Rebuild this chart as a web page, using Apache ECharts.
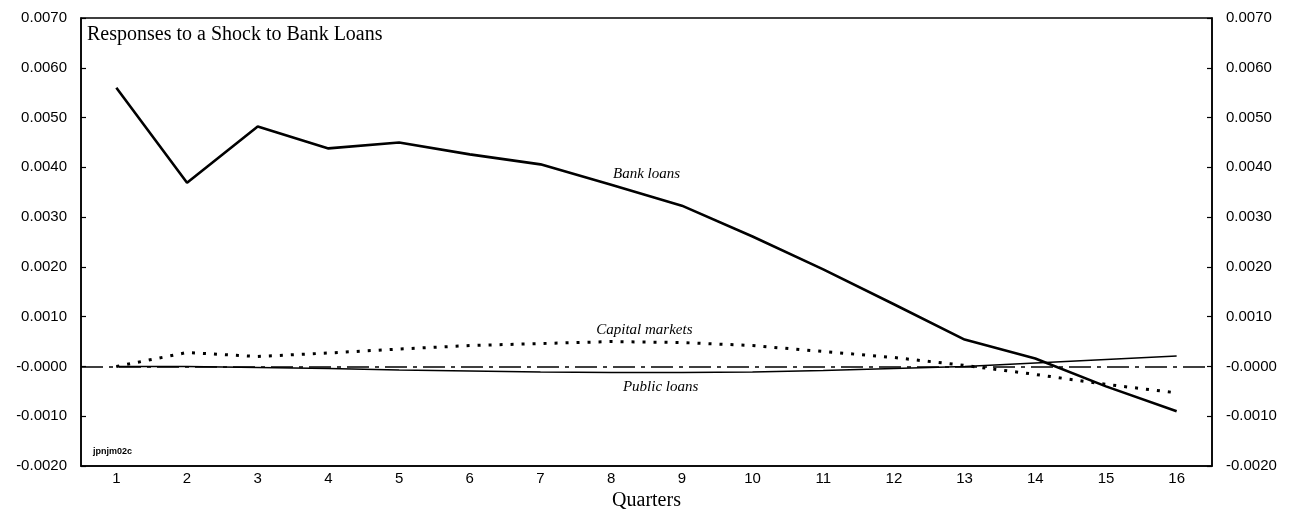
<!DOCTYPE html>
<html>
<head>
<meta charset="utf-8">
<script src="https://cdn.jsdelivr.net/npm/echarts@6/dist/echarts.min.js"></script>
<style>
html,body{margin:0;padding:0;background:#fff;}
#chart{width:1290px;height:510px;}
</style>
</head>
<body>
<div id="chart"></div>
<script>
// ---- data ----
const quarters = ['1','2','3','4','5','6','7','8','9','10','11','12','13','14','15','16'];
const bankLoans = [0.00560,0.00369,0.00482,0.00438,0.00450,0.00426,0.00406,0.00365,0.00323,0.00261,0.00195,0.00125,0.00054,0.00016,-0.00040,-0.00090];
const capitalMarkets = [0.00000,0.00028,0.00020,0.00027,0.00035,0.00042,0.00046,0.00050,0.00048,0.00042,0.00030,0.00018,0.00002,-0.00016,-0.00036,-0.00053];
const publicLoans = [0.00000,0.00000,-0.00002,-0.00004,-0.00007,-0.00009,-0.00011,-0.00012,-0.00012,-0.00011,-0.00008,-0.00004,0.00000,0.00007,0.00014,0.00021];
const yTicks = {min:-0.002, max:0.007, interval:0.001};
const seriesLabels = [
  {text:'Bank loans', idx:7.5, value:0.00386},
  {text:'Capital markets', idx:7.47, value:0.00074},
  {text:'Public loans', idx:7.7, value:-0.00042}
];
const titleText = 'Responses to a Shock to Bank Loans';
const codeText = 'jpnjm02c';

const chart = echarts.init(document.getElementById('chart'), null, {renderer:'canvas'});
const fmt = v => Math.abs(v) < 1e-12 ? '-0.0000' : v.toFixed(4);
const yAxisBase = {
  type:'value', min:yTicks.min, max:yTicks.max, interval:yTicks.interval,
  splitLine:{show:false},
  axisLine:{show:true, onZero:false, lineStyle:{color:'#000', width:1.5}},
  axisTick:{show:true, inside:true, length:5, lineStyle:{color:'#000', width:1.2}},
  axisLabel:{formatter:fmt, color:'#000', fontSize:15, fontFamily:'Liberation Sans', margin:14}
};
chart.setOption({
  animation:false,
  backgroundColor:'#fff',
  grid:{left:81, right:78, top:18, bottom:44, show:true, borderColor:'#000', borderWidth:1.5,
        containLabel:false, outerBoundsMode:'none'},
  xAxis:{
    type:'category', data:quarters, boundaryGap:true,
    axisLine:{onZero:false, lineStyle:{color:'#000', width:1.5}},
    axisTick:{inside:true, length:5, lineStyle:{color:'#000', width:1.2}},
    axisLabel:{color:'#000', fontSize:15, fontFamily:'Liberation Sans', margin:5},
    name:'Quarters', nameLocation:'middle', nameGap:17,
    nameTextStyle:{color:'#000', fontSize:20, fontFamily:'Liberation Serif'}
  },
  yAxis:[
    Object.assign({}, yAxisBase, {position:'left'}),
    Object.assign({}, yAxisBase, {position:'right'})
  ],
  series:[
    {name:'Public loans', type:'line', data:publicLoans, symbol:'none', z:3,
     lineStyle:{color:'#000', width:1.5},
     markLine:{silent:true, symbol:'none', label:{show:false},
       lineStyle:{color:'#000', width:1.6, type:[22,6,4,6]},
       data:[{yAxis:0}]}},
    {name:'Capital markets', type:'line', data:capitalMarkets, symbol:'none',
     lineStyle:{color:'#000', width:3, type:[3,8]}},
    {name:'Bank loans', type:'line', data:bankLoans, symbol:'none',
     lineStyle:{color:'#000', width:2.6}}
  ]
});

function px(idx, value){
  const i0 = Math.floor(idx), i1 = Math.min(i0+1, quarters.length-1);
  const p0 = chart.convertToPixel({gridIndex:0}, [i0, value]);
  const p1 = chart.convertToPixel({gridIndex:0}, [i1, value]);
  const f = idx - i0;
  return [p0[0] + (p1[0]-p0[0])*f, p0[1]];
}
const graphics = seriesLabels.map(l => {
  const p = px(l.idx, l.value);
  return {type:'text', x:p[0], y:p[1], style:{text:l.text, fill:'#000',
    font:'italic 15px "Liberation Serif"', textAlign:'center', textVerticalAlign:'middle'}};
});
const tl = chart.convertToPixel({gridIndex:0}, [0, yTicks.max]);
const bl = chart.convertToPixel({gridIndex:0}, [0, yTicks.min]);
graphics.push({type:'text', left:87, top:tl[1]+7, style:{text:titleText, fill:'#000',
  font:'20px "Liberation Serif"'}});
graphics.push({type:'text', left:93, top:bl[1]-19, style:{text:codeText, fill:'#000',
  font:'bold 9px "Liberation Sans"'}});
chart.setOption({graphic:graphics});
</script>
</body>
</html>
